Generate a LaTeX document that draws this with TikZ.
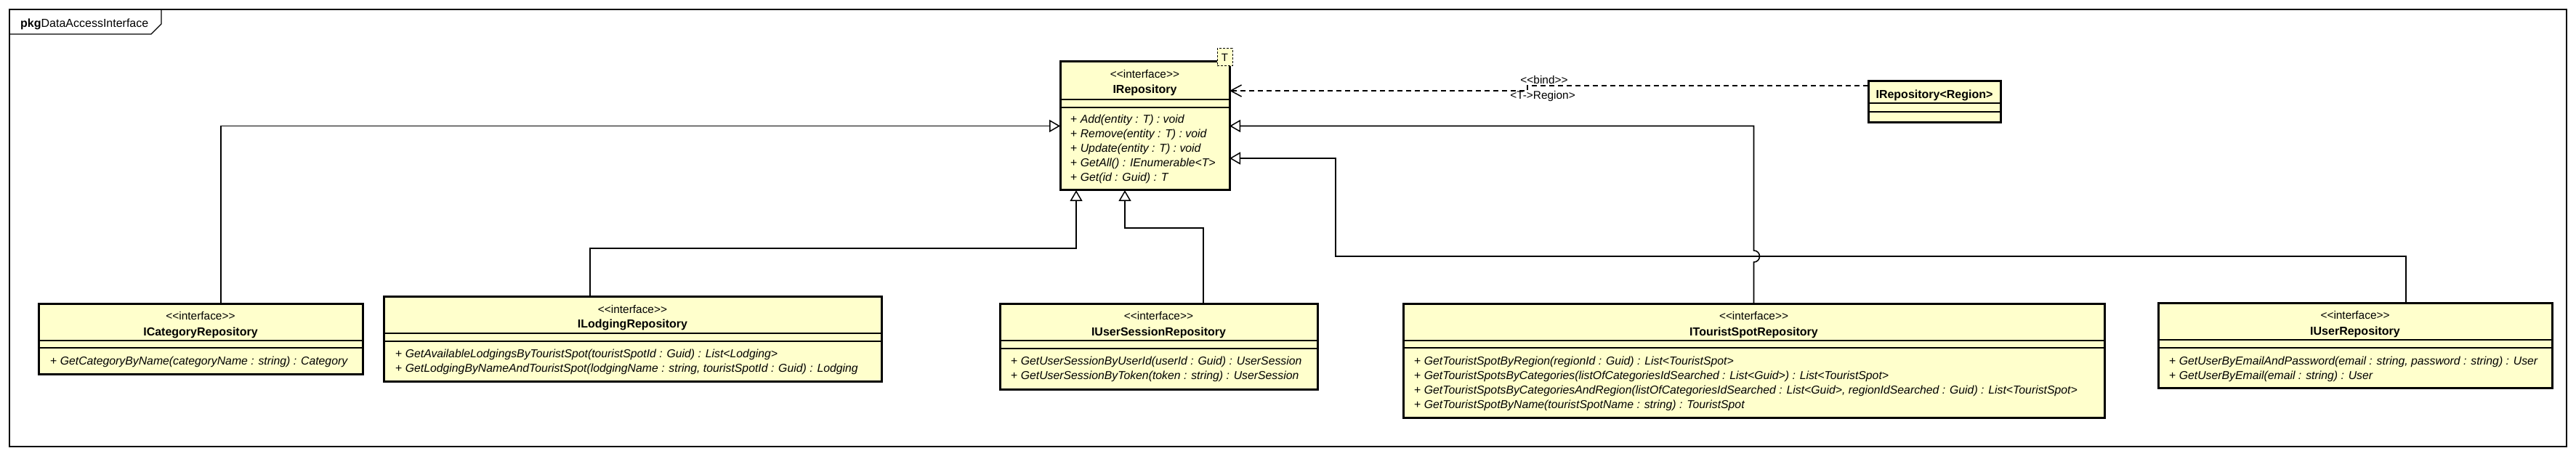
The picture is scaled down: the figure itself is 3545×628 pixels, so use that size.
\documentclass[tikz,border=0pt]{standalone}
\usepackage{fontspec}
\setmainfont{Liberation Sans}
\usetikzlibrary{arrows.meta,calc}
\definecolor{classfill}{RGB}{255,255,204}
\newcommand\stereoint{<{}<interface>{}>}
\tikzset{
  cls/.style={draw=black, line width=3pt, fill=classfill, anchor=north west, inner sep=0pt, outer sep=0pt},
  divline/.style={line width=1.3pt, draw=black},
  stereo/.style={font=\fontsize{15.4pt}{18pt}\selectfont, anchor=base, inner sep=0pt},
  cname/.style={font=\bfseries\fontsize{16pt}{19pt}\selectfont, anchor=base, inner sep=0pt},
  meth/.style={font=\fontsize{15.8pt}{18pt}\selectfont, anchor=base west, inner sep=0pt},
  conn/.style={line width=1.6pt, draw=black},
  gen/.style={-{Triangle[length=15pt, width=17pt, fill=white, line width=1.5pt]}},
  bindarrow/.style={line width=1.5pt, dash pattern=on 7pt off 5pt, -{Straight Barb[length=15pt, width=16pt, line width=1.5pt]}},
  lbl/.style={font=\fontsize{15.4pt}{18pt}\selectfont, anchor=base, inner sep=0pt},
  frameline/.style={line width=1.4pt, draw=black}
}
\begin{document}
\begin{tikzpicture}[x=1pt,y=-1pt]
\fill[white] (0,0) rectangle (3545,628);
\useasboundingbox (0,0) rectangle (3545,628);

% package frame
\draw[frameline] (13,13) rectangle (3532,615);
\draw[frameline] (13,47) -- (208,47) -- (222,33) -- (222,13);
\node[anchor=base west, inner sep=0pt, font=\fontsize{16pt}{19pt}\selectfont] (pkg) at (28,38) {\textbf{pkg}DataAccessInterface};

% IRepository
\node[cls, minimum width=233pt, minimum height=177pt] (repo) at (1459,85) {};
\draw[divline] (repo.west |- 0,137) -- (repo.east |- 0,137);
\draw[divline] (repo.west |- 0,148) -- (repo.east |- 0,148);
\node[stereo] (repoS) at (1575.5,108) {\stereoint};
\node[cname] (repoN) at (1575.5,129) {IRepository};
\node[meth] (repoM1) at (1473,170) {+ \textit{Add(entity : T) : void}};
\node[meth] (repoM2) at (1473,190) {+ \textit{Remove(entity : T) : void}};
\node[meth] (repoM3) at (1473,210) {+ \textit{Update(entity : T) : void}};
\node[meth] (repoM4) at (1473,230) {+ \textit{GetAll() : IEnumerable<T>}};
\node[meth] (repoM5) at (1473,250) {+ \textit{Get(id : Guid) : T}};
\node[draw=black, line width=1pt, dash pattern=on 3pt off 2pt, fill=classfill, minimum width=21pt, minimum height=24pt, inner sep=0pt, font=\fontsize{15pt}{18pt}\selectfont] (tpar) at (1685.5,79) {T};

% IRepository<Region>
\node[cls, minimum width=182pt, minimum height=57pt] (reg) at (2571,112) {};
\draw[divline] (reg.west |- 0,142) -- (reg.east |- 0,142);
\draw[divline] (reg.west |- 0,154) -- (reg.east |- 0,154);
\node[cname] (regN) at (2662,135.5) {IRepository<Region>};

% ICategoryRepository
\node[cls, minimum width=446pt, minimum height=97pt] (cat) at (53,418) {};
\draw[divline] (cat.west |- 0,469) -- (cat.east |- 0,469);
\draw[divline] (cat.west |- 0,479) -- (cat.east |- 0,479);
\node[stereo] (catS) at (276,440) {\stereoint};
\node[cname] (catN) at (276,462) {ICategoryRepository};
\node[meth] (catM1) at (69,502) {+ \textit{GetCategoryByName(categoryName : string) : Category}};

% ILodgingRepository
\node[cls, minimum width=685pt, minimum height=117pt] (lod) at (528,408) {};
\draw[divline] (lod.west |- 0,459) -- (lod.east |- 0,459);
\draw[divline] (lod.west |- 0,470) -- (lod.east |- 0,470);
\node[stereo] (lodS) at (870.5,431) {\stereoint};
\node[cname] (lodN) at (870.5,451) {ILodgingRepository};
\node[meth] (lodM1) at (544,492) {+ \textit{GetAvailableLodgingsByTouristSpot(touristSpotId : Guid) : List<Lodging>}};
\node[meth] (lodM2) at (544,512) {+ \textit{GetLodgingByNameAndTouristSpot(lodgingName : string, touristSpotId : Guid) : Lodging}};

% IUserSessionRepository
\node[cls, minimum width=437pt, minimum height=118pt] (ses) at (1376,418) {};
\draw[divline] (ses.west |- 0,469) -- (ses.east |- 0,469);
\draw[divline] (ses.west |- 0,480) -- (ses.east |- 0,480);
\node[stereo] (sesS) at (1594.5,440) {\stereoint};
\node[cname] (sesN) at (1594.5,462) {IUserSessionRepository};
\node[meth] (sesM1) at (1391,502) {+ \textit{GetUserSessionByUserId(userId : Guid) : UserSession}};
\node[meth] (sesM2) at (1391,522) {+ \textit{GetUserSessionByToken(token : string) : UserSession}};

% ITouristSpotRepository
\node[cls, minimum width=965pt, minimum height=157pt] (tsp) at (1931,418) {};
\draw[divline] (tsp.west |- 0,469) -- (tsp.east |- 0,469);
\draw[divline] (tsp.west |- 0,479) -- (tsp.east |- 0,479);
\node[stereo] (tspS) at (2413.5,440) {\stereoint};
\node[cname] (tspN) at (2413.5,462) {ITouristSpotRepository};
\node[meth] (tspM1) at (1946,502) {+ \textit{GetTouristSpotByRegion(regionId : Guid) : List<TouristSpot>}};
\node[meth] (tspM2) at (1946,522) {+ \textit{GetTouristSpotsByCategories(listOfCategoriesIdSearched : List<Guid>) : List<TouristSpot>}};
\node[meth] (tspM3) at (1946,542) {+ \textit{GetTouristSpotsByCategoriesAndRegion(listOfCategoriesIdSearched : List<Guid>, regionIdSearched : Guid) : List<TouristSpot>}};
\node[meth] (tspM4) at (1946,562) {+ \textit{GetTouristSpotByName(touristSpotName : string) : TouristSpot}};

% IUserRepository
\node[cls, minimum width=542pt, minimum height=117pt] (usr) at (2970,417) {};
\draw[divline] (usr.west |- 0,468) -- (usr.east |- 0,468);
\draw[divline] (usr.west |- 0,479) -- (usr.east |- 0,479);
\node[stereo] (usrS) at (3241,439) {\stereoint};
\node[cname] (usrN) at (3241,461) {IUserRepository};
\node[meth] (usrM1) at (2985,502) {+ \textit{GetUserByEmailAndPassword(email : string, password : string) : User}};
\node[meth] (usrM2) at (2985,522) {+ \textit{GetUserByEmail(email : string) : User}};

% connector coordinates
\coordinate (catUp) at ($(cat.north west)+(251,0)$);
\coordinate (lodUp) at ($(lod.north west)+(284,0)$);
\coordinate (sesUp) at ($(ses.north west)+(280,0)$);
\coordinate (usrUp) at ($(usr.north west)+(341,0)$);
\coordinate (repoB1) at ($(repo.south west)+(22,0)$);
\coordinate (repoB2) at ($(repo.south west)+(89,0)$);
\coordinate (repoE2) at ($(repo.east)+(0,44.5)$);
\coordinate (lodBend) at (812,342);
\coordinate (sesBend) at (1656,314);
\coordinate (usrBend) at (1838,353);
\coordinate (bindS) at ($(reg.north west)+(0,6)$);
\coordinate (bindE) at ($(repo.north east)+(0,40)$);
\coordinate (bindStep) at (2102,118);

% generalizations
\draw[conn, gen] (catUp) |- (repo.west);
\draw[conn, gen] (lodUp) -- (lodBend) -| (repoB1);
\draw[conn, gen] (sesUp) -- (sesBend) -| (repoB2);
\draw[conn, gen] (tsp.north) -- ($(tsp.north)+(0,-57)$) arc[start angle=90, end angle=-90, radius=8] -- (tsp.north |- repo.east) -- (repo.east);
\draw[conn, gen] (usrUp) |- (usrBend) |- (repoE2);

% binding
\draw[bindarrow] (bindS) -- (bindStep) |- (bindE);
\node[lbl] (bindL1) at (2125,116) {<{}<bind>{}>};
\node[lbl] (bindL2) at (2123,137) {<T->Region>};
\end{tikzpicture}
\end{document}
